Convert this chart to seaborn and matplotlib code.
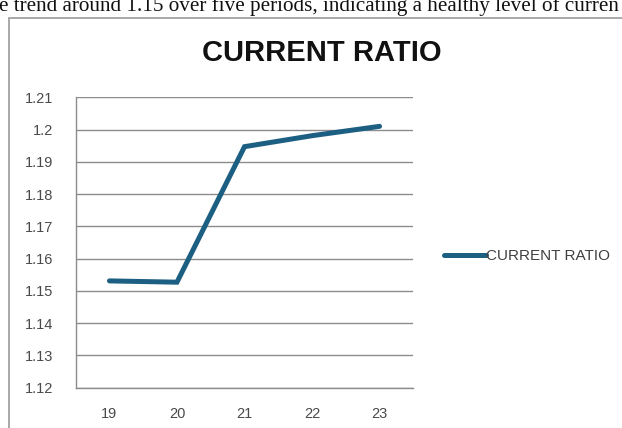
import matplotlib
matplotlib.use("Agg")
import matplotlib.pyplot as plt
from matplotlib.lines import Line2D
import seaborn as sns
import pandas as pd

# Current ratio by period
periods = ["19", "20", "21", "22", "23"]
current_ratio = [1.1531, 1.1527, 1.1947, 1.1981, 1.2010]
series_name = "CURRENT RATIO"
y_ticks = [1.12, 1.13, 1.14, 1.15, 1.16, 1.17, 1.18, 1.19, 1.20, 1.21]
y_tick_labels = ["1.12", "1.13", "1.14", "1.15", "1.16", "1.17", "1.18", "1.19", "1.2", "1.21"]
caption = "e trend around 1.15 over five periods, indicating a healthy level of curren"

df = pd.DataFrame({"period": periods, "value": current_ratio})

sns.set_theme(style="white")
plt.rcParams["font.family"] = ["Liberation Sans", "DejaVu Sans"]

W, H = 622, 428
fig = plt.figure(figsize=(W / 100, H / 100), dpi=100)
fig.patch.set_facecolor("white")

ax = fig.add_axes([75.7 / W, 1 - 387.7 / H, (413.3 - 75.7) / W, (387.7 - 97.3) / H])
line_color = "#1d5f82"
sns.lineplot(data=df, x="period", y="value", ax=ax, color=line_color,
             linewidth=3.6, solid_capstyle="round", solid_joinstyle="miter",
             legend=False)

ax.set_xlim(-0.5, len(periods) - 0.5)
ax.set_ylim(y_ticks[0], y_ticks[-1])
ax.set_xlabel("")
ax.set_ylabel("")

# horizontal gridlines
ax.set_yticks(y_ticks)
ax.set_yticklabels(y_tick_labels)
ax.yaxis.grid(True, color="#8c8c8c", linewidth=1.0)
ax.xaxis.grid(False)
ax.set_axisbelow(True)

# category labels centered, tick marks at category boundaries
ax.set_xticks(range(len(periods)))
ax.set_xticklabels(periods)
ax.set_xticks([i - 0.5 for i in range(len(periods) + 1)], minor=True)
ax.tick_params(axis="x", which="major", length=0, pad=14, labelsize=10.5, labelcolor="#4a4a4a")
ax.tick_params(axis="x", which="minor", length=4.3, width=1.0, color="#8c8c8c", direction="out")
ax.tick_params(axis="y", which="major", length=4.3, width=1.0, color="#8c8c8c", direction="out",
               pad=12, labelsize=10.5, labelcolor="#4a4a4a")

for side in ["top", "right"]:
    ax.spines[side].set_visible(False)
for side in ["left", "bottom"]:
    ax.spines[side].set_color("#8c8c8c")
    ax.spines[side].set_linewidth(1.0)

# title
fig.text(322 / W, 1 - 53 / H, series_name, ha="center", va="center",
         fontsize=21, fontweight="bold", color="#111111")

# legend
handle = Line2D([0], [0], color=line_color, linewidth=3.6, solid_capstyle="round")
fig.legend([handle], [series_name], loc="center left",
           bbox_to_anchor=(436 / W, 1 - 256 / H), frameon=False,
           handlelength=2.8, handletextpad=0.0, borderpad=0,
           prop={"size": 11}, labelcolor="#404040")

# chart frame
frame_color = "#a8a8a8"
fig.add_artist(Line2D([8.5 / W, 8.5 / W], [0, 1 - 18 / H], transform=fig.transFigure,
                      color=frame_color, linewidth=1.4))
fig.add_artist(Line2D([8.5 / W, 1], [1 - 18 / H, 1 - 18 / H], transform=fig.transFigure,
                      color=frame_color, linewidth=1.4))

# surrounding body text
fig.text(-1 / W, 1 - 11 / H, caption, ha="left", va="baseline",
         fontsize=15.2, family=["Liberation Serif", "DejaVu Serif"], color="#111111")

fig.savefig("out.png", dpi=100)
